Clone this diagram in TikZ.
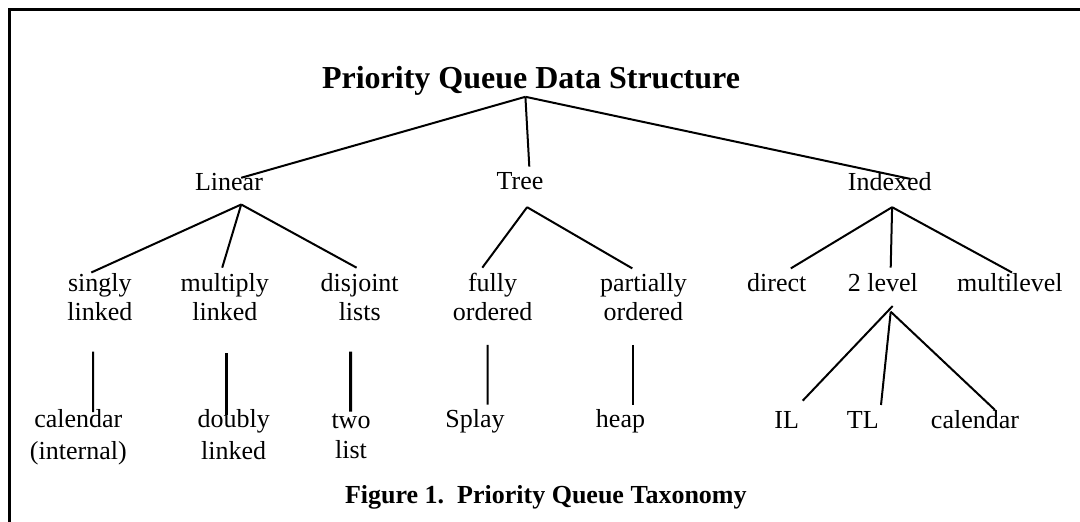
\documentclass[tikz,border=0pt]{standalone}
\usepackage{fontspec}
\setmainfont{Liberation Serif}

\tikzset{
  lbl/.style={font=\fontsize{13}{14.5}\selectfont, align=center, inner sep=0pt, anchor=base},
  leaf/.style={lbl, font=\fontsize{13}{16}\selectfont},
  ttl/.style={font=\fontsize{16}{19}\selectfont\bfseries, inner sep=0pt, anchor=base},
  capt/.style={font=\fontsize{13}{15}\selectfont\bfseries, inner sep=0pt, anchor=base},
  edge/.style={line width=1pt},
  stem/.style={line width=1pt},
  stemthick/.style={line width=1.5pt},
}

\begin{document}
\begin{tikzpicture}[x=0.5pt,y=-0.5pt]
\useasboundingbox (0,0) rectangle (1080,522);

%% frame
\draw[line width=1.5pt] (1084,9.5) -- (9.5,9.5) -- (9.5,526);

%% root and first level
\node[ttl] (root) at (531,88.3) {Priority Queue Data Structure};
\node[lbl] (lin) at (229,191) {Linear};
\node[lbl] (tree) at (520,190) {Tree};
\node[lbl] (idx) at (889.7,191) {Indexed};

\draw[edge] ([shift={(-5.6,8.5)}]root.base) -- ([shift={(12.2,-13.2)}]lin.base);
\draw[edge] ([shift={(-5.6,8.5)}]root.base) -- ([shift={(9.3,-23.3)}]tree.base);
\draw[edge] ([shift={(-5.6,8.5)}]root.base) -- ([shift={(20.6,-12.1)}]idx.base);

%% second level (two-line nodes sit on their last line)
\node[lbl] (sing) at (99.9,321) {singly\\linked};
\node[lbl] (mult) at (224.8,321) {multiply\\linked};
\node[lbl] (disj) at (359.7,321) {disjoint\\lists};
\node[lbl] (full) at (492.6,321) {fully\\ordered};
\node[lbl] (part) at (643.4,321) {partially\\ordered};
\node[lbl] (dir) at (776.8,292) {direct};
\node[lbl] (twolev) at (882.8,292) {2 level};
\node[lbl] (mlev) at (1009.9,292) {multilevel};

\draw[edge] ([shift={(12.2,13.5)}]lin.base) -- ([shift={(-8.6,-48.5)}]sing.base);
\draw[edge] ([shift={(12.2,13.5)}]lin.base) -- ([shift={(-2.6,-53.3)}]mult.base);
\draw[edge] ([shift={(12.2,13.5)}]lin.base) -- ([shift={(-3.1,-53.3)}]disj.base);

\draw[edge] ([shift={(7.1,17.2)}]tree.base) -- ([shift={(-10.3,-53.3)}]full.base);
\draw[edge] ([shift={(7.1,17.2)}]tree.base) -- ([shift={(-11.1,-52.6)}]part.base);

\draw[edge] ([shift={(2.4,16.2)}]idx.base) -- ([shift={(14,-23.6)}]dir.base);
\draw[edge] ([shift={(2.4,16.2)}]idx.base) -- ([shift={(7.9,-24.3)}]twolev.base);
\draw[edge] ([shift={(2.4,16.2)}]idx.base) -- ([shift={(2.1,-19.5)}]mlev.base);

%% leaves
\node[leaf] (cal) at (78.3,459.5) {calendar\\(internal)};
\node[leaf] (dbl) at (233.7,459.5) {doubly\\linked};
\node[lbl, font=\fontsize{13}{15}\selectfont] (twol) at (351,458.3) {two\\list};
\node[lbl] (splay) at (475,427.7) {Splay};
\node[lbl] (heap) at (620.5,427.7) {heap};
\node[lbl] (il) at (786.7,428.3) {IL};
\node[lbl] (tl) at (862.8,428.3) {TL};
\node[lbl] (calb) at (975,428.3) {calendar};

\draw[stem] ([shift={(-6.9,30.7)}]sing.base) -- ([shift={(14.7,-47.3)}]cal.base);
\draw[stemthick] ([shift={(1.5,32.4)}]mult.base) -- ([shift={(-7.4,-44.9)}]dbl.base);
\draw[stemthick] ([shift={(-9,30.7)}]disj.base) -- ([shift={(-0.3,-46.6)}]twol.base);
\draw[stem] ([shift={(-4.9,24)}]full.base) -- ([shift={(12.7,-23)}]splay.base);
\draw[stem] ([shift={(-10.1,24)}]part.base) -- ([shift={(12.8,-23)}]heap.base);

\draw[edge] ([shift={(9.9,14)}]twolev.base) -- ([shift={(16,-27.6)}]il.base);
\draw[edge] ([shift={(7.9,19.7)}]twolev.base) -- ([shift={(18.2,-23.3)}]tl.base);
\draw[edge] ([shift={(7.9,19.7)}]twolev.base) -- ([shift={(20,-18.3)}]calb.base);

%% caption
\node[capt] (cap) at (545.8,504) {Figure 1.\ \ Priority Queue Taxonomy};

\end{tikzpicture}
\end{document}
